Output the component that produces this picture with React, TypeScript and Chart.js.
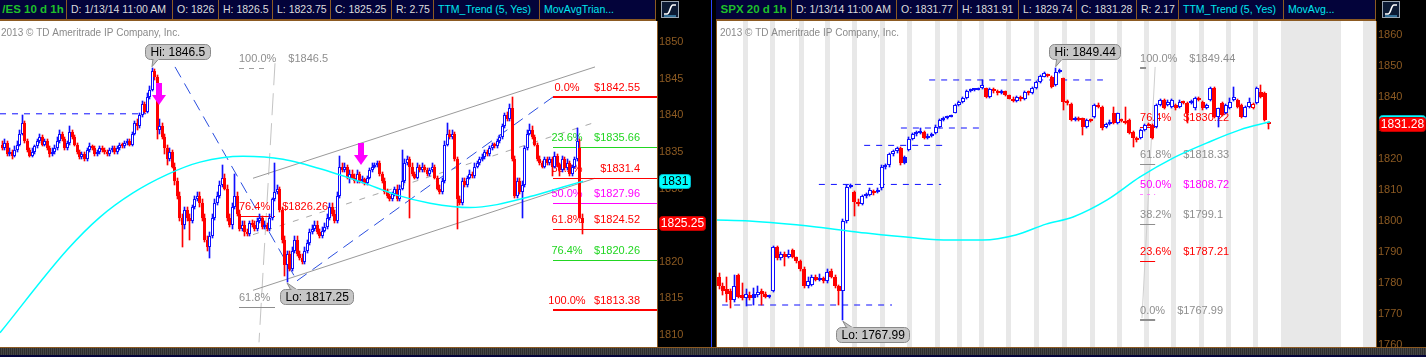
import React, { useEffect, useRef } from 'react';
import { Chart, registerables } from 'chart.js';

Chart.register(...registerables);

const FONT = '"Liberation Sans", Arial, Helvetica, sans-serif';
const BLUE = '#1010ff';
const RED = '#ff0000';
const GREEN = '#22d622';
const MAGENTA = '#ff00ff';
const GRAY = '#8e8e8e';
const CYAN = '#00ffff';
const BROWN = '#8c5a22';
const NAVY = '#03033a';

// ================= /ES 10 d 1h =================
const esOpen = [
  1836,1835.5,1836.25,1834.75,1835,1834.5,1835.25,1836,1837.5,1839,
  1836.5,1835.25,1834.5,1835,1835.75,1836.5,1837,1836,1836.5,1835.5,
  1834.75,1835,1835.5,1836.5,1837.5,1836.75,1835.5,1836.25,1837.75,1837,
  1836,1835,1834.25,1834.75,1834,1835.25,1835.75,1835.5,1834.75,1835,
  1835.5,1835.25,1835,1834.75,1835.25,1835.5,1835,1835.5,1836,1835.75,
  1836.25,1836.5,1836,1837.5,1839,1838.5,1840,1841.5,1840.5,1842.5,
  1843.5,1846,1845.25,1838,1838.5,1837,1835.5,1834,1835,1833,
  1831,1829,1826,1825,1827,1826,1825.5,1827.5,1828.5,1829,
  1828,1826,1823,1822,1823.5,1826,1828,1829,1830.5,1831.5,
  1830,1826,1825,1827.5,1829,1826.5,1824.5,1825,1824,1823.75,
  1825.25,1825,1824.5,1825.5,1826,1824.75,1825,1824.5,1826,1828.5,
  1829.5,1830,1827,1823,1819.5,1821,1819,1821.5,1823,1821,
  1820.5,1820,1821.5,1822.5,1824,1824.5,1825,1824,1823.5,1824.25,
  1824.75,1826,1827.5,1826.5,1825.5,1829,1833,1832.5,1833,1831.5,
  1832,1831.5,1831,1832,1831,1831.25,1830.75,1831.5,1832.5,1833,
  1833.25,1833.5,1832,1831,1829.5,1829,1828.5,1829.25,1830,1828.5,
  1830,1831,1833.5,1834,1833,1832,1831.5,1833,1832.5,1833,
  1832.5,1832,1832.5,1833,1831.5,1830,1829.5,1831,1836,1837.5,
  1837,1837.5,1834,1828.5,1828,1831,1830.5,1831.5,1832,1831.75,
  1833,1833.5,1834,1834.25,1835,1834.75,1835.5,1836,1835.75,1836.5,
  1837,1838.5,1840,1839.5,1841,1834,1829,1831,1829.5,1830.5,
  1835.5,1837.5,1838,1837,1836,1834,1833.5,1833,1834,1833.5,
  1834,1833,1834.5,1833.25,1832.5,1834,1832.75,1833.5,1832,1833,
  1834,1835.5,1826,
];
const esHigh = [
  1836.5,1836.75,1836.5,1835.5,1835.25,1835.75,1836.5,1838,1840,1839.25,
  1836.75,1835.5,1835.5,1836,1836.75,1837.5,1837.25,1836.75,1836.75,1835.75,
  1835.5,1836,1837,1838,1837.75,1837,1836.5,1838.5,1838,1837.25,
  1836.25,1835.25,1835,1835,1835.5,1836.25,1836,1835.75,1835.25,1835.75,
  1835.75,1835.5,1835.25,1835.5,1835.75,1835.75,1835.75,1836.25,1836.25,1836.5,
  1836.75,1836.75,1837.75,1839.25,1839.5,1840.25,1842,1841.75,1843,1844,
  1846.5,1846.25,1845.5,1839.5,1839,1837.5,1836,1835.5,1835.25,1833.5,
  1831.5,1829.5,1826.5,1827.5,1827.5,1826.5,1827.75,1829,1829.5,1829.5,
  1828.5,1826.5,1823.5,1824,1826.5,1828.5,1829.5,1831,1833.25,1832,
  1830.5,1826.5,1828,1832,1829.5,1827,1825.5,1825.5,1824.5,1825.5,
  1825.75,1825.5,1826,1826.5,1826.25,1825.5,1825.25,1826.5,1828.75,1833.5,
  1830.5,1830.25,1827.5,1823.5,1821.5,1821.5,1822,1823.5,1823.5,1821.5,
  1821,1822,1823,1824.5,1825,1825.5,1825.5,1824.5,1824.75,1825.25,
  1826.5,1828,1828,1827,1829.5,1834.5,1833.5,1833.5,1833.25,1832.5,
  1832.5,1832,1832.5,1832.25,1831.75,1831.5,1831.75,1832.75,1833.5,1833.5,
  1833.75,1833.75,1832.25,1831.5,1830,1829.25,1829.5,1830.25,1830.5,1830.5,
  1835.25,1834,1834.5,1834.25,1833.5,1832.25,1833.5,1833.25,1833.5,1833.25,
  1832.75,1832.75,1833.5,1833.25,1831.75,1830.5,1831.5,1836.5,1839,1838,
  1838,1837.75,1834.25,1829,1831.5,1831.5,1831.75,1832.5,1832.25,1833.5,
  1833.75,1834.25,1834.75,1835.25,1835.25,1835.75,1836.25,1836.25,1836.75,1837.25,
  1838.75,1840.25,1840.5,1841.5,1842.5,1834.5,1831.5,1831.5,1831,1835.75,
  1838,1838.75,1838.5,1837.25,1836.25,1834.5,1833.75,1834.25,1834.25,1834.25,
  1834.25,1835,1834.75,1833.5,1834.5,1834.25,1834,1833.75,1833.25,1834.25,
  1838.25,1836.75,1826.5,
];
const esLow = [
  1835.25,1835.25,1834.5,1834.5,1834,1834.25,1835,1835.75,1837.25,1836.25,
  1835,1834.25,1834.25,1834.75,1835.5,1836.25,1835.75,1835.75,1835.25,1834.25,
  1834.5,1834.75,1835.25,1836.25,1836.5,1835.25,1835.25,1836,1836.75,1835.75,
  1834.75,1834,1834,1833.75,1833.75,1835,1835.25,1834.5,1834.5,1834.75,
  1835,1834.75,1834.5,1834.5,1835,1834.75,1834.75,1835.25,1835.5,1835.5,
  1836,1835.75,1835.75,1837.25,1838,1838.25,1839.75,1840.25,1840.25,1842.25,
  1843.25,1844.75,1836.75,1837.5,1836.75,1834.75,1833.25,1833.75,1832.75,1830.5,
  1828.5,1825.5,1822,1824.5,1825.5,1823,1825.25,1827.25,1828.25,1827.5,
  1825.5,1822.75,1821.5,1820.5,1823.25,1825.75,1827.75,1828.75,1830.25,1829.75,
  1825.5,1824.75,1824.5,1827.25,1826.25,1824.25,1824.25,1823.5,1823.5,1823.5,
  1824.75,1824.25,1824.25,1825.25,1824.5,1824.5,1824.25,1824.25,1825.75,1828.25,
  1829.25,1826.75,1822.5,1818,1817.25,1818.75,1818.75,1821.25,1820.75,1820.25,
  1819.75,1819.75,1821.25,1822.25,1823.75,1824.25,1823.75,1823.25,1823.25,1824,
  1824.5,1825.75,1826.25,1825.25,1825.25,1828.75,1832.25,1832.25,1831.25,1830.75,
  1831.25,1830.75,1830.75,1830.75,1830.75,1830.5,1830.5,1831.25,1832.25,1832.75,
  1833,1831.75,1830.75,1829.25,1828.75,1828.25,1828.25,1829,1828.25,1828.25,
  1829.75,1830.75,1833.25,1826,1831.75,1831.25,1831.25,1832.25,1832.25,1832.25,
  1831.75,1831.75,1832.25,1831.25,1829.75,1829.25,1829.25,1830.75,1835.75,1836.75,
  1836.75,1833.75,1824.5,1827.75,1827.75,1830.25,1830.25,1831.25,1831.5,1831.5,
  1832.75,1833.25,1833.75,1834,1834.5,1834.5,1835.25,1835.5,1835.5,1836.25,
  1836.75,1838.25,1839.25,1839.25,1833.75,1828.75,1828.75,1829.25,1826,1830.25,
  1835.25,1837.25,1836.75,1835.75,1833.75,1833.25,1832.75,1832.75,1833.25,1833.25,
  1831.75,1832.75,1833,1831.75,1832.25,1832.5,1832.5,1831.75,1831.75,1832.75,
  1833.75,1826,1823.75,
];
const esClose = [
  1835.5,1836.25,1834.75,1835,1834.5,1835.25,1836,1837.5,1839,1836.5,
  1835.25,1834.5,1835,1835.75,1836.5,1837,1836,1836.5,1835.5,1834.75,
  1835,1835.5,1836.5,1837.5,1836.75,1835.5,1836.25,1837.75,1837,1836,
  1835,1834.25,1834.75,1834,1835.25,1835.75,1835.5,1834.75,1835,1835.5,
  1835.25,1835,1834.75,1835.25,1835.5,1835,1835.5,1836,1835.75,1836.25,
  1836.5,1836,1837.5,1839,1838.5,1840,1841.5,1840.5,1842.5,1843.5,
  1846,1845.25,1838,1838.5,1837,1835.5,1834,1835,1833,1831,
  1829,1826,1825,1827,1826,1825.5,1827.5,1828.5,1829,1828,
  1826,1823,1822,1823.5,1826,1828,1829,1830.5,1831.5,1830,
  1826,1825,1827.5,1829,1826.5,1824.5,1825,1824,1823.75,1825.25,
  1825,1824.5,1825.5,1826,1824.75,1825,1824.5,1826,1828.5,1829.5,
  1830,1827,1823,1819.5,1821,1819,1821.5,1823,1821,1820.5,
  1820,1821.5,1822.5,1824,1824.5,1825,1824,1823.5,1824.25,1824.75,
  1826,1827.5,1826.5,1825.5,1829,1833,1832.5,1833,1831.5,1832,
  1831.5,1831,1832,1831,1831.25,1830.75,1831.5,1832.5,1833,1833.25,
  1833.5,1832,1831,1829.5,1829,1828.5,1829.25,1830,1828.5,1830,
  1831,1833.5,1834,1833,1832,1831.5,1833,1832.5,1833,1832.5,
  1832,1832.5,1833,1831.5,1830,1829.5,1831,1836,1837.5,1837,
  1837.5,1834,1828.5,1828,1831,1830.5,1831.5,1832,1831.75,1833,
  1833.5,1834,1834.25,1835,1834.75,1835.5,1836,1835.75,1836.5,1837,
  1838.5,1840,1839.5,1841,1834,1829,1831,1829.5,1830.5,1835.5,
  1837.5,1838,1837,1836,1834,1833.5,1833,1834,1833.5,1834,
  1833,1834.5,1833.25,1832.5,1834,1832.75,1833.5,1832,1833,1834,
  1836.5,1826,1825.25,
];
const esTicks = [1810, 1815, 1820, 1825, 1830, 1835, 1840, 1845, 1850];
const esMaIdx = [-0.8, 26, 39.2, 52.4, 66, 79.2, 96.4, 112.4, 131.2, 144.4, 158, 171.2, 187.2, 198, 211.2, 224.4, 232.4];
const esMaVal = [1810.3, 1821.6, 1826.1, 1829.4, 1831.9, 1833.6, 1834.4, 1834.0, 1832.3, 1830.8, 1829.1, 1828.0, 1827.4, 1827.8, 1828.9, 1830.2, 1831.0];
const esFibLevels = [1842.55, 1835.66, 1831.4, 1827.96, 1824.52, 1820.26, 1813.38];
const esFibLabels = ['0.0%', '23.6%', '38.2%', '50.0%', '61.8%', '76.4%', '100.0%'];
const esFibStart = 220.4;
const esOldFibLevels = [1846.5, 1826.26, 1813.85];
const esOldFibLabels = ['100.0%', '76.4%', '61.8%'];
const esOldFibPrices = ['$1846.5', '$1826.26', ''];
const esOldFibSpan = [94.8, 109.2];
const esHi = [60, 1846.5];
const esLo = [114, 1817.25];
const esArrowIdx = [62.8, 143.4];
const esArrowVal = [1841.4, 1833.2];
const esLevelLines = [[-0.8, 1840.2, 57.6, 1840.2]];
const esTrendLines = [[69.2, 1846.6, 118, 1817.4], [118, 1817.4, 220.4, 1842.5]];
const esChannelLines = [[100.4, 1831.4, 237.2, 1846.6], [100.4, 1816.1, 237.2, 1831.4]];
const esChannelMid = [[100.4, 1823.7, 236, 1838.9]];
const esFibAxis = [[109.2, 1847.1, 102.8, 1809.0]];
const esLastPrice = 1825.25;
const esMaLast = 1831;

// ================= SPX 20 d 1h =================
const spxOpen = [
  1782,1779,1778,1777.5,1774.5,1782.5,1776,1775,1776,1776.5,
  1776,1777.5,1776.5,1775.5,1777.5,1791.5,1788,1789.5,1788.5,1790.5,
  1788.5,1787,1784.5,1779,1779.5,1782,1781,1781.5,1780.5,1784,
  1782,1779,1777.5,1800,1811,1809.5,1806,1805.5,1808,1808.5,
  1809,1809.5,1810.5,1817.5,1818,1821.5,1822.5,1823.5,1820.5,1823,
  1826.5,1828,1828.5,1828.8,1826.8,1827.5,1828.3,1830.4,1832.5,1833.2,
  1833.7,1835,1837.4,1838.3,1839.6,1841.8,1842.2,1842.4,1842.8,1842.8,
  1840.1,1842,1841.8,1841.3,1841.8,1840.6,1839.5,1838.8,1839.9,1839.3,
  1841.5,1841.2,1842.8,1845,1846.6,1847.1,1846.6,1843.9,1848.2,1846,
  1838.5,1837.8,1832.6,1833.1,1833.1,1830.4,1832.6,1833.7,1837.4,1836.9,
  1830.4,1831.3,1834.7,1831.5,1832.6,1832.1,1832.6,1828.8,1826.7,1826.7,
  1829.4,1831.2,1831,1830.4,1837.4,1839,1837.4,1836.9,1837.4,1836.9,
  1838.5,1838,1838.5,1836.3,1839.6,1838.5,1836.3,1839,1842.8,1833.7,
  1838,1834.7,1836.3,1839,1839,1837.4,1833.7,1836.9,1836.3,1838,
  1841.7,1841.4,1831.77,
];
const spxHigh = [
  1783.2,1780,1782,1778,1782.5,1783,1780,1778,1777,1778.5,
  1779,1778,1777,1776,1792,1792,1790,1790,1790.5,1791,
  1788.5,1787.5,1785,1782,1782.5,1782.5,1783,1782,1784.5,1784.5,
  1782.5,1779.5,1800.5,1811.5,1811.8,1809.8,1807,1808.5,1809,1810.5,
  1810,1810.5,1818,1818.5,1822,1823,1824,1823.8,1821,1827,
  1828.5,1829,1830,1829,1828,1828.5,1831,1833,1833.6,1834,
  1834.1,1837.8,1838.7,1840,1842.3,1842.5,1842.6,1843,1845.5,1843,
  1843,1842.8,1842.3,1842.4,1842,1840.8,1840,1840.3,1840.2,1841.8,
  1841.9,1843.2,1845.3,1847,1848,1847.5,1846.9,1849.44,1849,1846.2,
  1839,1838,1833.4,1833.4,1833.3,1833,1832.8,1837.8,1838.2,1837.2,
  1831.7,1832.5,1836.9,1835,1832.9,1836.9,1832.9,1829.1,1827,1829.8,
  1831.4,1831.5,1831.3,1837.8,1839.4,1839.3,1838.9,1839.4,1837.8,1838.9,
  1838.8,1838.3,1838.9,1839.9,1839.9,1838.8,1837.8,1843.1,1843.1,1836.6,
  1838.3,1837.8,1839.6,1843.3,1839.3,1837.7,1837.2,1839.6,1838.2,1843.1,
  1843.8,1841.7,1831.91,
];
const spxLow = [
  1778,1776,1774,1772,1774,1775,1774.5,1772.5,1774.5,1773,
  1775.5,1773,1775,1775,1777,1787.5,1787.5,1785.5,1788,1788,
  1786.5,1784,1778.5,1778.5,1779,1780.5,1780.5,1780,1780,1781.5,
  1778.5,1773,1767.99,1799.5,1810.8,1801.5,1804.8,1805,1807.5,1808,
  1808.5,1809,1810,1816.8,1817.5,1821,1822,1818.2,1818.3,1822.5,
  1826,1827.5,1828,1826.3,1826.5,1827,1828,1830,1832.2,1833,
  1833.5,1834.8,1837,1838,1839.3,1841.5,1842,1842.1,1842.5,1839.8,
  1839.8,1841.2,1840.8,1841,1840.3,1839.2,1838.4,1838.5,1838.8,1839,
  1840.8,1841,1842.5,1844.5,1846.3,1846.5,1842.8,1843.5,1847.9,1835.8,
  1837.4,1832.2,1832.2,1832.3,1827.7,1830,1831.8,1833.3,1836.5,1829.5,
  1830,1831,1831.2,1831.2,1831.8,1831.2,1828,1824,1825.6,1826.3,
  1829,1830.5,1826.3,1830,1837,1836,1837,1836.6,1835.9,1836.6,
  1837.7,1831.5,1837.6,1835.9,1838.7,1835.9,1836,1838.6,1833.3,1830.4,
  1833.9,1834.4,1836,1838.7,1836.5,1833.3,1833.4,1836.6,1836,1837.7,
  1839.8,1832.3,1829.74,
];
const spxClose = [
  1779,1777.5,1776.5,1774.5,1779,1775.5,1775,1776.5,1775,1775,
  1777,1776.5,1775.5,1775.5,1791.5,1788,1789.5,1788.5,1789.5,1788.5,
  1787,1784.5,1779,1780.5,1782,1781,1781.5,1780.5,1783.5,1782,
  1779,1777.5,1800,1811,1811.5,1806,1805.5,1808,1808.5,1810,
  1809.5,1810,1817.5,1818,1821.5,1822.5,1823.5,1818.8,1818.8,1826.5,
  1828,1828.5,1828.8,1826.8,1827.5,1828,1830.4,1832.5,1833.2,1833.7,
  1833.9,1837.4,1838.3,1839.6,1841.8,1842.2,1842.4,1842.6,1843.9,1840.1,
  1842.5,1841.8,1841.3,1841.8,1840.6,1839.5,1838.8,1839.9,1839.3,1841.5,
  1841.2,1842.8,1845,1846.7,1847.6,1846.8,1843.3,1848.2,1848.7,1838.5,
  1838,1832.6,1833.1,1832.6,1830.4,1832.6,1832.1,1837.4,1836.9,1829.9,
  1831.3,1832,1831.5,1834.7,1832.1,1831.5,1828.3,1826.7,1826.1,1829.4,
  1831,1830.8,1826.7,1837.4,1839,1836.3,1838.5,1839,1836.3,1838.5,
  1838,1834.7,1838,1839.6,1839,1836.3,1837.4,1842.8,1833.7,1836.3,
  1834.2,1837.4,1838.5,1840.1,1836.9,1833.7,1836.9,1838.5,1837.9,1842.8,
  1840.1,1832.6,1831.28,
];
const spxTicks = [1760, 1770, 1780, 1790, 1800, 1810, 1820, 1830, 1840, 1850, 1860];
const spxMaIdx = [-0.8, 7.8, 25.1, 38, 50.9, 59.4, 68.2, 76.7, 84.5, 91.5, 100.3, 108.8, 117.3, 126.1, 134.6, 142.4];
const spxMaVal = [1800.3, 1800, 1798.1, 1796.1, 1794.5, 1793.9, 1793.9, 1795.5, 1799, 1801.3, 1806.8, 1814.2, 1820.3, 1825.2, 1829.4, 1832.0];
const spxFibLevels = [1849.44, 1830.22, 1818.33, 1808.72, 1799.1, 1787.21, 1767.99];
const spxFibLabels = ['100.0%', '76.4%', '61.8%', '50.0%', '38.2%', '23.6%', '0.0%'];
const spxFibSpan = [108.8, 112.7];
const spxFibAxis = [[112.7, 1849.7, 109.3, 1768.7]];
const spxHi = [87, 1849.44];
const spxLo = [32, 1767.99];
const spxLevelLines = [
  [0.8, 1772.9, 44.7, 1772.9],
  [25.8, 1811.8, 57.4, 1811.8],
  [37.5, 1824.4, 57.9, 1824.4],
  [47, 1830.0, 67.2, 1830.0],
  [54.3, 1845.5, 99.2, 1845.5],
];
const spxSessionMarks = [6.6, 13.6, 21.1, 27.8, 35, 42, 49, 56.2, 61.9, 67.8, 74.8, 82, 89.1, 96.3, 103.4, 110.3, 117.4, 124.5, 131.6, 138.6];
const spxClosedSpans = [[145.2, 160.7], [166.4, 171]];
const spxLastPrice = 1831.28;
const spxMaLast = 1832.0;

// header texts
const esHeader = ['/ES 10 d 1h', 'D: 1/13/14 11:00 AM', 'O: 1826', 'H: 1826.5', 'L: 1823.75', 'C: 1825.25', 'R: 2.75', 'TTM_Trend (5, Yes)', 'MovAvgTrian...'];
const spxHeader = ['SPX 20 d 1h', 'D: 1/13/14 11:00 AM', 'O: 1831.77', 'H: 1831.91', 'L: 1829.74', 'C: 1831.28', 'R: 2.17', 'TTM_Trend (5, Yes)', 'MovAvg...'];
const esHeaderEdges = [0, 67, 173, 219, 273, 331, 392, 434, 540, 656];
const spxHeaderEdges = [716, 792, 897, 958, 1019, 1077, 1137, 1179, 1284, 1376];

const COPYRIGHT = '2013 \u00A9 TD Ameritrade IP Company, Inc.';

// ---------- helpers ----------
function candleSets(o: number[], h: number[], l: number[], c: number[], bodyRatio: number) {
  const colors = c.map((v, i) => ((i === 0 ? v >= o[i] : v >= c[i - 1]) ? BLUE : RED));
  const fills = c.map((v, i) => (v < o[i] ? colors[i] : '#ffffff'));
  return [
    {
      type: 'bar',
      data: l.map((v, i) => ({ x: i, y: [v, h[i]] })),
      backgroundColor: colors,
      borderWidth: 0,
      grouped: false,
      categoryPercentage: 1,
      barPercentage: 1,
      maxBarThickness: 1,
      minBarLength: 1,
      order: 3,
    },
    {
      type: 'bar',
      data: o.map((v, i) => ({ x: i, y: [Math.min(v, c[i]), Math.max(v, c[i])] })),
      backgroundColor: fills,
      borderColor: colors,
      borderWidth: 1,
      borderSkipped: false,
      grouped: false,
      categoryPercentage: 1,
      barPercentage: bodyRatio,
      minBarLength: 2,
      order: 2,
    },
  ];
}

function maSet(idx: number[], val: number[]) {
  return {
    type: 'line',
    data: idx.map((x, i) => ({ x, y: val[i] })),
    borderColor: CYAN,
    borderWidth: 1.5,
    pointRadius: 0,
    cubicInterpolationMode: 'monotone',
    fill: false,
    order: 1,
  };
}

// snap bar elements to whole pixels so thin candles stay crisp
const pixelSnap = {
  id: 'pixelSnap',
  afterDatasetsUpdate(chart: any) {
    chart.getSortedVisibleDatasetMetas().forEach((meta: any) => {
      if (meta.type !== 'bar') return;
      meta.data.forEach((el: any) => {
        const w = Math.max(1, Math.round(el.width));
        el.width = w;
        el.x = w % 2 ? Math.floor(el.x) + 0.5 : Math.round(el.x);
        const top = Math.round(Math.min(el.y, el.base));
        let bot = Math.round(Math.max(el.y, el.base));
        if (bot - top < 1) bot = top + 1;
        el.y = top;
        el.base = bot;
        el.height = bot - top;
      });
    });
  },
};

function text(ctx: any, s: string, x: number, y: number, color: string, size: number, align = 'left', weight = '') {
  ctx.font = `${weight} ${size}px ${FONT}`.trim();
  ctx.fillStyle = color;
  ctx.textAlign = align;
  ctx.textBaseline = 'middle';
  ctx.fillText(s, x, y);
  return ctx.measureText(s).width;
}

function seg(ctx: any, chart: any, s: number[], color: string, width: number, dash: number[]) {
  const X = chart.scales.x, Y = chart.scales.y;
  ctx.save();
  ctx.strokeStyle = color;
  ctx.lineWidth = width;
  ctx.setLineDash(dash);
  ctx.beginPath();
  ctx.moveTo(X.getPixelForValue(s[0]), Y.getPixelForValue(s[1]));
  ctx.lineTo(X.getPixelForValue(s[2]), Y.getPixelForValue(s[3]));
  ctx.stroke();
  ctx.restore();
}

function hline(ctx: any, x0: number, x1: number, y: number, color: string, width: number, dash: number[] = []) {
  ctx.save();
  ctx.strokeStyle = color;
  ctx.lineWidth = width;
  ctx.setLineDash(dash);
  const yy = width % 2 === 1 ? Math.round(y) + 0.5 : Math.round(y);
  ctx.beginPath();
  ctx.moveTo(x0, yy);
  ctx.lineTo(x1, yy);
  ctx.stroke();
  ctx.restore();
}

function rrect(ctx: any, x: number, y: number, w: number, h: number, r: number) {
  ctx.beginPath();
  ctx.moveTo(x + r, y);
  ctx.lineTo(x + w - r, y);
  ctx.arcTo(x + w, y, x + w, y + r, r);
  ctx.lineTo(x + w, y + h - r);
  ctx.arcTo(x + w, y + h, x + w - r, y + h, r);
  ctx.lineTo(x + r, y + h);
  ctx.arcTo(x, y + h, x, y + h - r, r);
  ctx.lineTo(x, y + r);
  ctx.arcTo(x, y, x + r, y, r);
  ctx.closePath();
}

function callout(ctx: any, chart: any, p: number[], label: string, above: boolean) {
  const ax = chart.scales.x.getPixelForValue(p[0]);
  const ay = chart.scales.y.getPixelForValue(p[1]);
  ctx.save();
  ctx.font = `12px ${FONT}`;
  const w = Math.round(ctx.measureText(label).width + 10);
  const h = 15;
  const left = Math.round(ax - 7) + 0.5;
  const top = above ? Math.round(ay - 9 - h) + 0.5 : Math.round(ay + 7) + 0.5;
  ctx.fillStyle = '#c6c6c6';
  ctx.strokeStyle = '#8a8a8a';
  ctx.lineWidth = 1;
  ctx.beginPath();
  if (above) {
    ctx.moveTo(ax + 1, top + h - 1);
    ctx.lineTo(ax, ay - 1);
    ctx.lineTo(ax + 7, top + h - 1);
  } else {
    ctx.moveTo(ax, ay + 1);
    ctx.lineTo(ax + 4, top + 1);
    ctx.lineTo(ax + 11, top + 1);
  }
  ctx.closePath();
  ctx.fill();
  ctx.stroke();
  rrect(ctx, left, top, w, h, 5);
  ctx.fill();
  ctx.stroke();
  ctx.fillStyle = '#c6c6c6';
  if (above) ctx.fillRect(ax + 1.5, top + h - 1.5, 5, 2);
  else ctx.fillRect(ax + 4.5, top - 0.5, 6, 2);
  text(ctx, label, left + 5, top + h / 2 + 0.5, '#000', 12);
  ctx.restore();
}

function valueBox(ctx: any, x: number, y: number, w: number, label: string, fill: string, color: string) {
  ctx.save();
  rrect(ctx, x + 0.5, Math.round(y - 7) + 0.5, w, 14, 3);
  ctx.fillStyle = fill;
  ctx.fill();
  ctx.strokeStyle = fill === RED ? '#c00000' : '#00b8c8';
  ctx.lineWidth = 1;
  ctx.stroke();
  text(ctx, label, x + w / 2 + 0.5, Math.round(y) + 0.5, color, 12, 'center');
  ctx.restore();
}

function whiteArea(chart: any) {
  const { ctx, chartArea: a } = chart;
  ctx.save();
  ctx.fillStyle = '#ffffff';
  ctx.fillRect(a.left, a.top, a.right - a.left, a.bottom - a.top);
  ctx.restore();
}

function clip(ctx: any, a: any) {
  ctx.save();
  ctx.beginPath();
  ctx.rect(a.left, a.top, a.right - a.left, a.bottom - a.top);
  ctx.clip();
}

// ---------- ES decorations ----------
const esPlugin = {
  id: 'esDecor',
  beforeDraw(chart: any) {
    whiteArea(chart);
  },
  beforeDatasetsDraw(chart: any) {
    const { ctx, chartArea: a } = chart;
    const X = chart.scales.x, Y = chart.scales.y;
    clip(ctx, a);
    text(ctx, COPYRIGHT, a.left + 1, 12, '#8a8a8a', 10);
    esLevelLines.forEach((s) => seg(ctx, chart, s, BLUE, 1, [6, 6]));
    esFibAxis.forEach((s) => seg(ctx, chart, s, '#c4c4c4', 1, [22, 8]));
    esChannelLines.forEach((s) => seg(ctx, chart, s, '#9a9a9a', 1, []));
    esChannelMid.forEach((s) => seg(ctx, chart, s, '#a8a8a8', 1, [6, 8]));
    esTrendLines.forEach((s) => seg(ctx, chart, s, '#2a4ee0', 1, [12, 7]));
    const ox0 = X.getPixelForValue(esOldFibSpan[0]);
    const ox1 = X.getPixelForValue(esOldFibSpan[1]);
    const oldColors = [GRAY, RED, GRAY];
    esOldFibLevels.forEach((v, k) => {
      const y = Y.getPixelForValue(v);
      hline(ctx, ox0, k === 0 ? ox1 - 10 : ox1, y, k === 0 ? '#a0a0a0' : oldColors[k], 1, k === 0 ? [5, 5] : []);
      const w = text(ctx, esOldFibLabels[k], ox0, y - 9, oldColors[k], 11);
      if (esOldFibPrices[k]) text(ctx, esOldFibPrices[k], ox0 + w + 12, y - 9, oldColors[k], 11);
    });
    const fx = X.getPixelForValue(esFibStart);
    const colors = [RED, GREEN, RED, MAGENTA, RED, GREEN, RED];
    esFibLevels.forEach((v, k) => {
      const y = Y.getPixelForValue(v);
      const thick = k === 0 || k === esFibLevels.length - 1;
      hline(ctx, fx, a.right, y, colors[k], thick ? 2 : 1);
      text(ctx, esFibLabels[k], fx + 14, y - 9, colors[k], 11, 'center');
      text(ctx, '$' + String(v), a.right - 17, y - 9, colors[k], 11, 'right');
    });
    ctx.restore();
  },
  afterDatasetsDraw(chart: any) {
    const { ctx, chartArea: a } = chart;
    const X = chart.scales.x, Y = chart.scales.y;
    clip(ctx, a);
    esArrowIdx.forEach((ix, k) => {
      const x = Math.round(X.getPixelForValue(ix));
      const tip = Math.round(Y.getPixelForValue(esArrowVal[k]));
      ctx.fillStyle = MAGENTA;
      ctx.fillRect(x - 3, tip - 22, 6, 12);
      ctx.beginPath();
      ctx.moveTo(x - 7, tip - 10);
      ctx.lineTo(x + 7, tip - 10);
      ctx.lineTo(x, tip);
      ctx.closePath();
      ctx.fill();
    });
    callout(ctx, chart, esHi, 'Hi: ' + esHi[1], true);
    callout(ctx, chart, esLo, 'Lo: ' + esLo[1], false);
    ctx.restore();
  },
  afterDraw(chart: any) {
    const { ctx } = chart;
    const Y = chart.scales.y;
    const x = Y.left + 2;
    valueBox(ctx, x, Y.getPixelForValue(esMaLast), 31, String(esMaLast), CYAN, '#000');
    valueBox(ctx, x, Y.getPixelForValue(esLastPrice), 46, String(esLastPrice), RED, '#fff');
  },
};

// ---------- SPX decorations ----------
const spxPlugin = {
  id: 'spxDecor',
  beforeDraw(chart: any) {
    whiteArea(chart);
  },
  beforeDatasetsDraw(chart: any) {
    const { ctx, chartArea: a } = chart;
    const X = chart.scales.x, Y = chart.scales.y;
    clip(ctx, a);
    ctx.fillStyle = '#e8e8e8';
    spxSessionMarks.forEach((m) => {
      const x = Math.round(X.getPixelForValue(m));
      ctx.fillRect(x - 2, a.top, 5, a.bottom - a.top);
    });
    spxClosedSpans.forEach((s) => {
      const x0 = Math.round(X.getPixelForValue(s[0]));
      const x1 = Math.round(X.getPixelForValue(s[1]));
      ctx.fillRect(x0, a.top, x1 - x0, a.bottom - a.top);
    });
    text(ctx, COPYRIGHT, a.left + 4, 12, '#8a8a8a', 10);
    spxLevelLines.forEach((s) => seg(ctx, chart, s, BLUE, 1, [6, 6]));
    spxFibAxis.forEach((s) => seg(ctx, chart, s, '#cfcfcf', 1, []));
    const fx0 = X.getPixelForValue(spxFibSpan[0]);
    const fx1 = X.getPixelForValue(spxFibSpan[1]);
    const colors = [GRAY, RED, GRAY, MAGENTA, GRAY, RED, GRAY];
    spxFibLevels.forEach((v, k) => {
      const y = Y.getPixelForValue(v);
      const last = k === spxFibLevels.length - 1;
      if (k === 0) hline(ctx, fx0, fx0 + 6, y, GRAY, 2);
      else if (colors[k] === MAGENTA) hline(ctx, fx0, fx1, y, '#ff80ff', 1, [3, 4]);
      else hline(ctx, fx0, fx1, y, colors[k], last ? 2 : 1);
      const w = text(ctx, spxFibLabels[k], fx0, y - 9, colors[k], 11);
      text(ctx, '$' + String(v), fx0 + w + 12, y - 9, colors[k], 11);
    });
    ctx.restore();
  },
  afterDatasetsDraw(chart: any) {
    const { ctx, chartArea: a } = chart;
    clip(ctx, a);
    callout(ctx, chart, spxHi, 'Hi: ' + spxHi[1], true);
    callout(ctx, chart, spxLo, 'Lo: ' + spxLo[1], false);
    ctx.restore();
  },
  afterDraw(chart: any) {
    const { ctx } = chart;
    const Y = chart.scales.y;
    const x = Y.left + 3;
    valueBox(ctx, x, Y.getPixelForValue(spxMaLast), 46, String(spxMaLast), CYAN, '#000');
    valueBox(ctx, x, Y.getPixelForValue(spxLastPrice), 46, String(spxLastPrice), RED, '#fff');
  },
};

function makeConfig(datasets: any[], xMin: number, xMax: number, yMin: number, yMax: number, ticks: number[], axisW: number, plugin: any) {
  return {
    type: 'bar',
    data: { datasets },
    plugins: [pixelSnap, plugin],
    options: {
      animation: false,
      responsive: false,
      events: [],
      layout: { padding: 0 },
      plugins: { legend: { display: false }, tooltip: { enabled: false } },
      scales: {
        x: { type: 'linear', min: xMin, max: xMax, display: false, offset: false, grid: { display: false } },
        y: {
          type: 'linear',
          position: 'right',
          min: yMin,
          max: yMax,
          beginAtZero: false,
          stacked: false,
          grid: { display: false, drawTicks: false },
          border: { display: true, color: BROWN, width: 1 },
          ticks: {
            color: BROWN,
            font: { family: FONT, size: 11 },
            padding: 2,
            autoSkip: false,
            callback: (v: number) => String(v),
          },
          afterBuildTicks: (s: any) => {
            s.ticks = ticks.map((v) => ({ value: v }));
          },
          afterFit: (s: any) => {
            s.width = axisW;
            s.paddingTop = 0;
            s.paddingBottom = 0;
          },
        },
      },
    },
  };
}

function HeaderBar({ cells, edges }: { cells: string[]; edges: number[] }) {
  return (
    <>
      <div style={{ position: 'absolute', left: edges[0], top: 0, width: edges[edges.length - 1] - edges[0], height: 19, background: NAVY }} />
      {cells.map((s, k) => {
        const sym = k === 0;
        const study = k >= 7;
        return (
          <div
            key={k}
            style={{
              position: 'absolute',
              left: edges[k],
              top: 0,
              width: edges[k + 1] - edges[k],
              height: 19,
              lineHeight: '19px',
              boxSizing: 'border-box',
              borderRight: `1px solid ${BROWN}`,
              paddingLeft: sym ? 0 : 4,
              textAlign: sym ? 'center' : 'left',
              color: sym ? '#1fbf2a' : study ? '#00e6f0' : '#dcdcdc',
              fontWeight: sym ? 'bold' : 'normal',
              fontSize: sym ? 11.5 : 10.5,
              fontFamily: FONT,
              whiteSpace: 'nowrap',
              overflow: 'hidden',
            }}
          >
            {s}
          </div>
        );
      })}
      <div style={{ position: 'absolute', left: edges[0], top: 19, width: edges[edges.length - 1] - edges[0], height: 2, background: BROWN }} />
    </>
  );
}

function StudyIcon({ left }: { left: number }) {
  return (
    <svg style={{ position: 'absolute', left, top: 1 }} width={18} height={17}>
      <rect x={0.5} y={0.5} width={17} height={16} fill="#0b1a33" stroke="#9aa6b2" />
      <path d="M3 13 H6 C9 13 9 4 12 4 H15" stroke="#ffffff" strokeWidth={1.6} fill="none" />
      <line x1={3} y1={15} x2={15} y2={15} stroke="#5fc8ff" strokeWidth={1} />
    </svg>
  );
}

export default function App() {
  const esRef = useRef<HTMLCanvasElement>(null);
  const spxRef = useRef<HTMLCanvasElement>(null);

  useEffect(() => {
    const esChart = new Chart(
      esRef.current as any,
      makeConfig(
        [maSet(esMaIdx, esMaVal), ...candleSets(esOpen, esHigh, esLow, esClose, 1.2)],
        -0.8, 262, 1808.36, 1852.87, esTicks, 53, esPlugin,
      ) as any,
    );
    const spxChart = new Chart(
      spxRef.current as any,
      makeConfig(
        [maSet(spxMaIdx, spxMaVal), ...candleSets(spxOpen, spxHigh, spxLow, spxClose, 1.08)],
        -0.78, 169.77, 1759.35, 1864.52, spxTicks, 50, spxPlugin,
      ) as any,
    );
    return () => {
      esChart.destroy();
      spxChart.destroy();
    };
  }, []);

  return (
    <div style={{ position: 'fixed', left: 0, top: 0, width: 1426, height: 357, background: '#000', overflow: 'hidden' }}>
      <HeaderBar cells={esHeader} edges={esHeaderEdges} />
      <HeaderBar cells={spxHeader} edges={spxHeaderEdges} />
      <StudyIcon left={661} />
      <StudyIcon left={1382} />
      <canvas ref={esRef} width={710} height={326} style={{ position: 'absolute', left: 0, top: 21, background: '#000' }} />
      <canvas ref={spxRef} width={710} height={326} style={{ position: 'absolute', left: 716, top: 21, background: '#000' }} />
      <div style={{ position: 'absolute', left: 716, top: 21, width: 1, height: 326, background: BROWN }} />
      <div style={{ position: 'absolute', left: 711, top: 0, width: 1, height: 357, background: '#2a44ff' }} />
      <div style={{ position: 'absolute', left: 0, top: 347, width: 1426, height: 1, background: BROWN }} />
      <div
        style={{
          position: 'absolute',
          left: 0,
          top: 348,
          width: 1426,
          height: 7,
          background: 'repeating-linear-gradient(90deg, #2e2e2e 0px, #2e2e2e 1px, #454545 1px, #454545 2px)',
        }}
      />
      <div style={{ position: 'absolute', left: 0, top: 355, width: 1426, height: 2, background: NAVY }} />
    </div>
  );
}
